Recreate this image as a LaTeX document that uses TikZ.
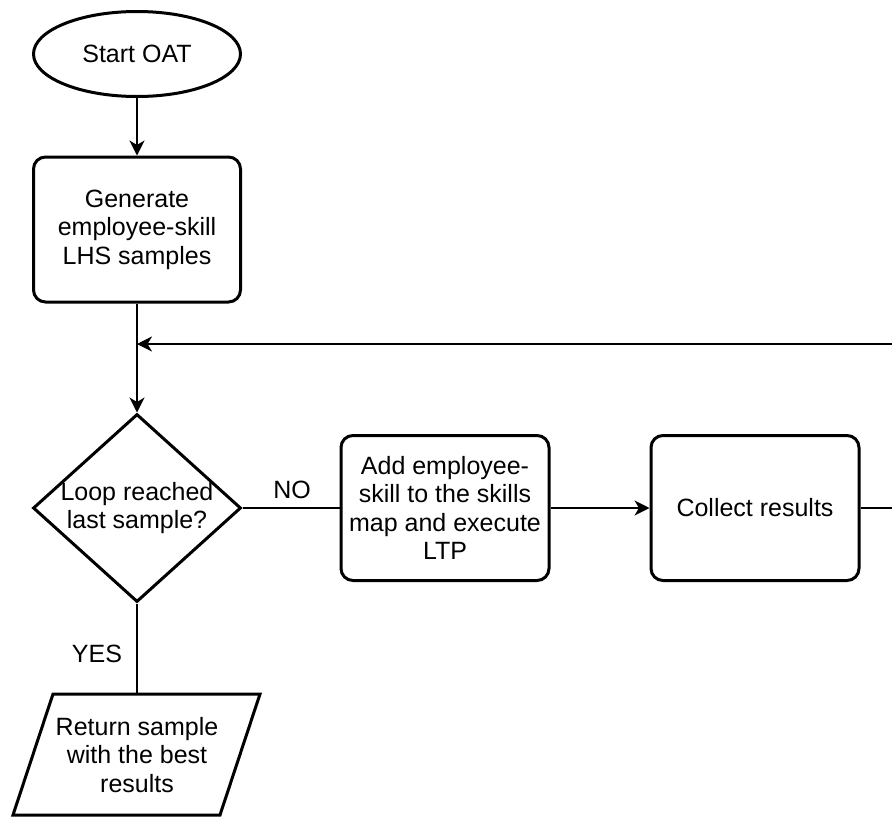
\documentclass[tikz,border=0pt]{standalone}
\usepackage{fontspec}
\setmainfont{Liberation Sans}
\usetikzlibrary{shapes.geometric,arrows.meta}
\begin{document}
\begin{tikzpicture}[x=1pt,y=-1pt,
  every node/.style={font=\fontsize{25}{28.5}\selectfont, align=center},
  shapeline/.style={draw, line width=3pt},
  box/.style={shapeline, rectangle, rounded corners=12pt, minimum width=207pt, minimum height=145pt, inner sep=0pt},
  conn/.style={line width=1.8pt},
  arr/.style={conn, -{Stealth[length=15pt, width=15pt, inset=4.5pt]}},
  lbl/.style={inner sep=0pt}]
\useasboundingbox (0,0) rectangle (892,817);

\node[shapeline, ellipse, minimum width=207pt, minimum height=85pt, inner sep=0pt] (start) at (137,54) {Start OAT};
\node[box] (gen) at (137,229.5) {Generate\\employee-skill\\LHS samples};
\node[shapeline, diamond, minimum width=208pt, minimum height=188pt, inner sep=0pt] (dec) at (137,508) {};
\node[lbl] (dectext) at (dec.center) {Loop reached\\last sample?};
\node[box, minimum width=208pt] (add) at (445,508) {Add employee-\\skill to the skills\\map and execute\\LTP};
\node[box, minimum width=208pt] (collect) at (755,508) {Collect results};

\coordinate (pTL) at (53,694);
\coordinate (pTR) at (260,694);
\coordinate (pBR) at (220,815);
\coordinate (pBL) at (13,815);
\coordinate (pTop) at (137,694);
\draw[shapeline, line join=miter] (pTL) -- (pTR) -- (pBR) -- (pBL) -- cycle;
\node[lbl] (ret) at (137,755) {Return sample\\with the best\\results};

\coordinate (outR) at (892,508);
\coordinate (fbR) at (892,344);
\coordinate (fbL) at (137,344);

\draw[arr] (start.south) -- (gen.north);
\draw[arr] (gen.south) -- (dec.north);
\draw[arr] (fbR) -- (fbL);
\draw[conn] (dec.east) -- (add.west);
\draw[arr] (add.east) -- (collect.west);
\draw[conn] (collect.east) -- (outR);
\draw[conn] (dec.south) -- (pTop);

\node[lbl] (no) at (292,490) {NO};
\node[lbl] (yes) at (97,654) {YES};
\end{tikzpicture}
\end{document}
